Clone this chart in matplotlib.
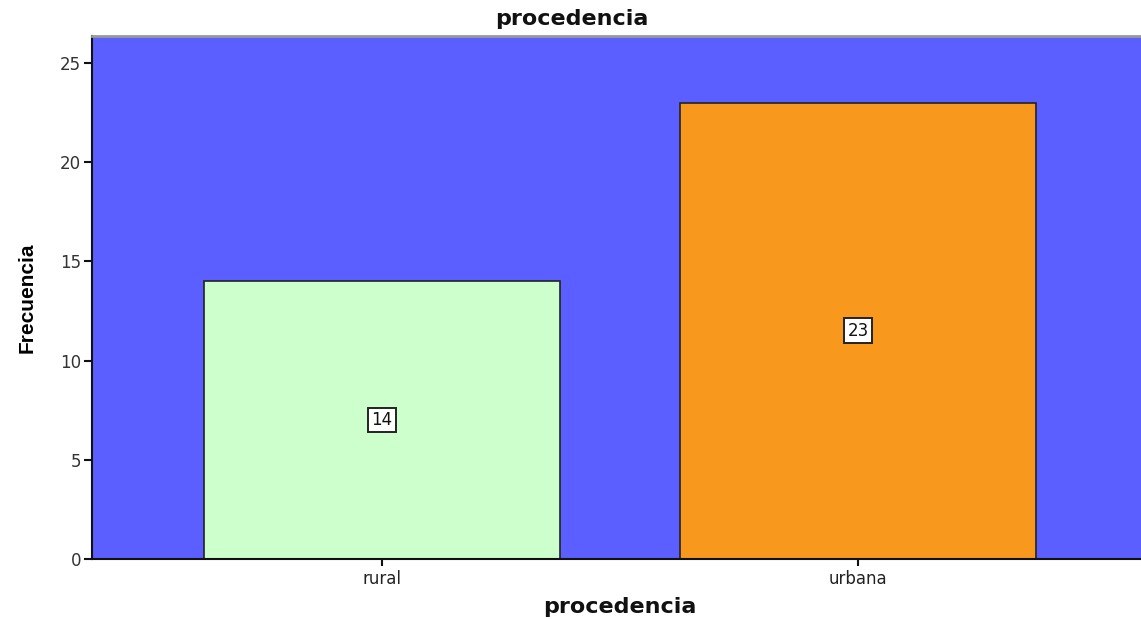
import matplotlib
matplotlib.use('Agg')
import matplotlib.pyplot as plt
import numpy as np

# procedencia counts
categorias = ['rural', 'urbana']
frecuencias = [14, 23]
colores = ['#CCFFCC', '#F8981D']

fig = plt.figure(figsize=(11.41, 6.19), dpi=100)
# axes runs a bit past the right edge, like the original export
ax = fig.add_axes([92/1141, 60/619, 1056/1141, 523/619])
ax.set_facecolor('#5C5FFF')

x = np.arange(len(categorias))
bars = ax.bar(x, frecuencias, width=0.748, color=colores, edgecolor='#222222', linewidth=1.2, zorder=2)

for b, v in zip(bars, frecuencias):
    ax.text(b.get_x() + b.get_width()/2, v/2, str(v), ha='center', va='center',
            fontsize=12, family='DejaVu Sans', color='#111111', zorder=3,
            bbox=dict(boxstyle='square,pad=0.2', fc='white', ec='#222222', lw=1.4))

ax.set_xlim(-0.609, 1.609)
ax.set_ylim(0, 26.36)
ax.set_yticks([0, 5, 10, 15, 20, 25])
ax.set_xticks(x)
ax.set_xticklabels(categorias)

ax.tick_params(axis='y', length=6, width=1.5, color='#111111', labelsize=12, labelcolor='#333333', pad=2)
ax.tick_params(axis='x', length=5, width=1.5, color='#111111', labelsize=12, labelcolor='#222222', pad=3)

for s in ['left', 'bottom']:
    ax.spines[s].set_color('#111111')
    ax.spines[s].set_linewidth(1.5)
ax.spines['top'].set_color('#999999')
ax.spines['top'].set_linewidth(2)
ax.spines['right'].set_visible(False)

ax.set_ylabel('Frecuencia', fontsize=15, fontweight='bold', family='Liberation Sans')
ax.yaxis.set_label_coords(-0.052, 0.5)
ax.set_xlabel('procedencia', fontsize=16, fontweight='bold', family='DejaVu Sans', color='#111111')
ax.xaxis.set_label_coords(0.5, -0.072)

fig.text(572/1141, 1 - 19/619, 'procedencia', ha='center', va='center',
         fontsize=16, fontweight='bold', family='DejaVu Sans', color='#111111')

fig.savefig('out.png', dpi=100)
